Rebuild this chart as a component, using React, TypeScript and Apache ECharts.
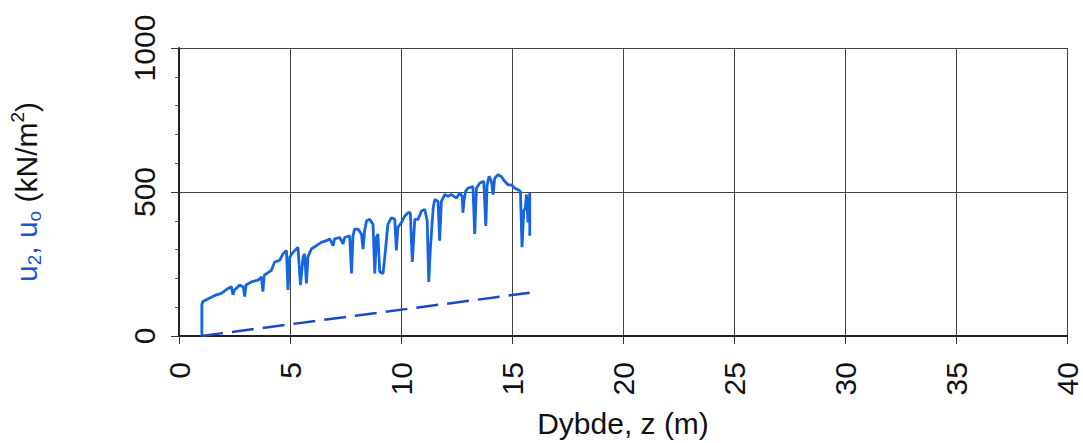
import React, { useEffect, useRef } from "react";
import * as echarts from "echarts";

// Depth z (m) vs measured pore pressure u2 (kN/m²)
const u2Points: [number, number][] = [
  [1.03, 0], [1.03, 110], [1.08, 120], [1.23, 126], [1.68, 143], [1.91, 148],
  [2.21, 165], [2.36, 171], [2.43, 143], [2.5, 160], [2.58, 165], [2.73, 177],
  [2.9, 170], [2.96, 137], [3.02, 177], [3.26, 188], [3.56, 194], [3.71, 205],
  [3.78, 154], [3.84, 211], [4.16, 228], [4.31, 257], [4.54, 263], [4.68, 285],
  [4.84, 297], [4.91, 160], [4.99, 274], [5.14, 291], [5.36, 308], [5.47, 177],
  [5.59, 274], [5.66, 285], [5.74, 183], [5.81, 274], [5.96, 302], [6.19, 314],
  [6.41, 325], [6.64, 331], [6.79, 337], [6.94, 314], [7.01, 337], [7.24, 342],
  [7.39, 320], [7.46, 342], [7.69, 348], [7.77, 217], [7.84, 348], [7.91, 371],
  [8.06, 371], [8.22, 354], [8.29, 302], [8.36, 365], [8.45, 400], [8.59, 405],
  [8.74, 388], [8.82, 217], [8.89, 342], [8.96, 354], [9.04, 223], [9.19, 217],
  [9.27, 274], [9.41, 388], [9.57, 411], [9.72, 405], [9.79, 297], [9.86, 377],
  [10.02, 394], [10.17, 417], [10.32, 428], [10.42, 428], [10.51, 257], [10.62, 405],
  [10.77, 405], [10.92, 434], [11.07, 439], [11.18, 400], [11.25, 188], [11.32, 300],
  [11.45, 445], [11.52, 474], [11.67, 468], [11.74, 331], [11.82, 468], [11.97, 491],
  [12.12, 485], [12.27, 491], [12.5, 479], [12.64, 497], [12.76, 485], [12.79, 428],
  [12.84, 470], [12.91, 502], [13.02, 514], [13.24, 519], [13.32, 354], [13.4, 514],
  [13.55, 531], [13.73, 537], [13.82, 382], [13.88, 525], [13.97, 554], [14.07, 537],
  [14.15, 491], [14.22, 548], [14.37, 560], [14.52, 554], [14.67, 537], [14.82, 525],
  [14.97, 525], [15.12, 514], [15.27, 508], [15.38, 502], [15.45, 308], [15.53, 434],
  [15.6, 445], [15.65, 491], [15.72, 394], [15.8, 497], [15.8, 348],
];

// Hydrostatic pore pressure u0 (kN/m²)
const u0Points: [number, number][] = [
  [1.0, 0],
  [15.8, 150],
];

const xTicks = { min: 0, max: 40, interval: 5 };
const yTicks = { min: 0, max: 1000, interval: 500 };

const FONT = "'Liberation Sans', Arial, Helvetica, sans-serif";

export default function App() {
  const ref = useRef<HTMLDivElement>(null);

  useEffect(() => {
    if (!ref.current) return;
    const chart = echarts.init(ref.current, undefined, { renderer: "svg" });
    chart.setOption({
      animation: false,
      backgroundColor: "#ffffff",
      grid: { left: 179, right: 16, top: 48, bottom: 103, containLabel: false },
      xAxis: {
        type: "value",
        min: xTicks.min,
        max: xTicks.max,
        interval: xTicks.interval,
        name: "Dybde, z (m)",
        nameLocation: "middle",
        nameGap: 72,
        nameTextStyle: { fontSize: 30, color: "#111", fontFamily: FONT },
        axisLine: { show: true, onZero: false, lineStyle: { color: "#222", width: 2 } },
        axisTick: { show: true, inside: false, length: 8, lineStyle: { color: "#333", width: 1 } },
        axisLabel: {
          rotate: 90,
          margin: 26,
          fontSize: 30,
          color: "#111",
          fontFamily: FONT,
          formatter: (v: number) => String(v),
        },
        splitLine: { show: true, lineStyle: { color: "#444", width: 1 } },
      },
      yAxis: {
        type: "value",
        min: yTicks.min,
        max: yTicks.max,
        interval: yTicks.interval,
        name: "{b|u}{bs|2}{b|, u}{bs|o}{k| (kN/m}{ks|2}{k|)}",
        nameLocation: "middle",
        nameRotate: 90,
        nameGap: 135,
        nameTextStyle: {
          fontFamily: FONT,
          rich: {
            b: { fontSize: 30, color: "#1a55d0", fontFamily: FONT, lineHeight: 36, verticalAlign: "middle" },
            bs: { fontSize: 19, color: "#1a55d0", fontFamily: FONT, lineHeight: 16, verticalAlign: "bottom" },
            k: { fontSize: 30, color: "#111", fontFamily: FONT, lineHeight: 36, verticalAlign: "middle" },
            ks: { fontSize: 19, color: "#111", fontFamily: FONT, lineHeight: 16, verticalAlign: "top" },
          },
        },
        axisLine: { show: true, onZero: false, lineStyle: { color: "#222", width: 2 } },
        axisTick: { show: true, inside: false, length: 8, lineStyle: { color: "#333", width: 1 } },
        minorTick: { show: true, splitNumber: 5, length: 4, lineStyle: { color: "#555", width: 1 } },
        axisLabel: {
          rotate: 90,
          margin: 20,
          fontSize: 30,
          color: "#111",
          fontFamily: FONT,
          formatter: (v: number) => String(v),
        },
        splitLine: { show: true, lineStyle: { color: "#444", width: 1 } },
      },
      series: [
        {
          name: "u2",
          type: "line",
          data: u2Points,
          showSymbol: false,
          symbol: "none",
          lineStyle: { color: "#1565e0", width: 2.8 },
          z: 3,
        },
        {
          name: "u0",
          type: "line",
          data: u0Points,
          showSymbol: false,
          symbol: "none",
          lineStyle: { color: "#1c48c8", width: 2.5, type: [22, 9] },
          z: 3,
        },
      ],
    });
    return () => chart.dispose();
  }, []);

  return (
    <div
      ref={ref}
      style={{ position: "fixed", left: 0, top: 0, width: 1083, height: 443, background: "#fff" }}
    />
  );
}
